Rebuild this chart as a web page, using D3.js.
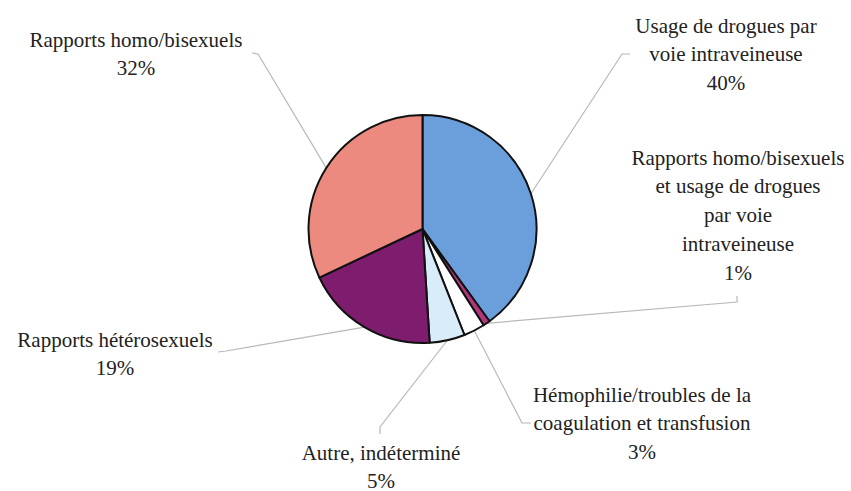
<!DOCTYPE html>
<html>
<head>
<meta charset="utf-8">
<script src="https://cdn.jsdelivr.net/npm/d3@7"></script>
<style>
  body { margin: 0; background: #fff; overflow: hidden; }
  #wrap { position: relative; width: 851px; height: 491px; overflow: hidden; }
  #chart { position: absolute; left: 0; top: 0; }
  .label { position: absolute; width: 300px; text-align: center; color: #222; white-space: nowrap; }
</style>
</head>
<body>
<div id="wrap"><svg id="chart"></svg></div>
<script>
var categories = [
  'Usage de drogues par voie intraveineuse',
  'Rapports homo/bisexuels et usage de drogues par voie intraveineuse',
  'Hémophilie/troubles de la coagulation et transfusion',
  'Autre, indéterminé',
  'Rapports hétérosexuels',
  'Rapports homo/bisexuels'
];
var values = [40, 1, 3, 5, 19, 32];
var colors = ['#6a9fdc', '#b3367c', '#ffffff', '#d9ecf9', '#7e1c6e', '#ec8a80'];

// label lines as drawn (text wrapping of the original)
var labelLines = [
  ['Usage de drogues par', 'voie intraveineuse'],
  ['Rapports homo/bisexuels', 'et usage de drogues', 'par voie', 'intraveineuse'],
  ['Hémophilie/troubles de la', 'coagulation et transfusion'],
  ['Autre, indéterminé'],
  ['Rapports hétérosexuels'],
  ['Rapports homo/bisexuels']
];

var width = 851, height = 491,
    cx = 422.5, cy = 229, radius = 114,
    baseOff = 21.3;   // first baseline below the top of a label box

// label centre x, first baseline y, leader end point + elbow
var layout = [
  {x: 726, y: 33, end: [630, 54], elbow: [622, 54]},
  {x: 738, y: 165, end: [737, 296], elbow: [737, 302]},
  {x: 642, y: 402, end: [531, 423], elbow: [522, 423]},
  {x: 381, y: 460, end: [380, 434], elbow: [380, 427]},
  {x: 115, y: 347, end: [218, 352], elbow: [226, 351]},
  {x: 136, y: 47, end: [252, 53], elbow: [258, 54]}
];

var svg = d3.select('#chart')
  .attr('width', width)
  .attr('height', height);

var pie = d3.pie().sort(null).value(function(d) { return d; });
var arcs = pie(values);
var arc = d3.arc().innerRadius(0).outerRadius(radius);
var edge = d3.arc().innerRadius(radius).outerRadius(radius);

// leader lines
svg.append('g').selectAll('polyline')
  .data(arcs)
  .join('polyline')
  .attr('points', function(d, i) {
    var c = edge.centroid(d), l = layout[i];
    return [[c[0] + cx, c[1] + cy], l.elbow, l.end].join(' ');
  })
  .attr('fill', 'none')
  .attr('stroke', '#b8b8b8')
  .attr('stroke-width', 1.2);

svg.append('g')
  .attr('transform', 'translate(' + cx + ',' + cy + ')')
  .selectAll('path')
  .data(arcs)
  .join('path')
  .attr('d', arc)
  .attr('fill', function(d, i) { return colors[i]; })
  .attr('stroke', '#111')
  .attr('stroke-width', 2)
  .attr('stroke-linejoin', 'round');

// labels as html text (serif face)
d3.select('#wrap').selectAll('div.label')
  .data(arcs)
  .join('div')
  .attr('class', 'label')
  .attr('style', function(d, i) {
    return "font: 21px/28.7px 'Liberation Serif'; left: " + (layout[i].x - 150) +
      'px; top: ' + (layout[i].y - baseOff) + 'px;';
  })
  .selectAll('div')
  .data(function(d, i) { return labelLines[i].concat([values[i] + '%']); })
  .join('div')
  .text(function(r) { return r; });
</script>
</body>
</html>
